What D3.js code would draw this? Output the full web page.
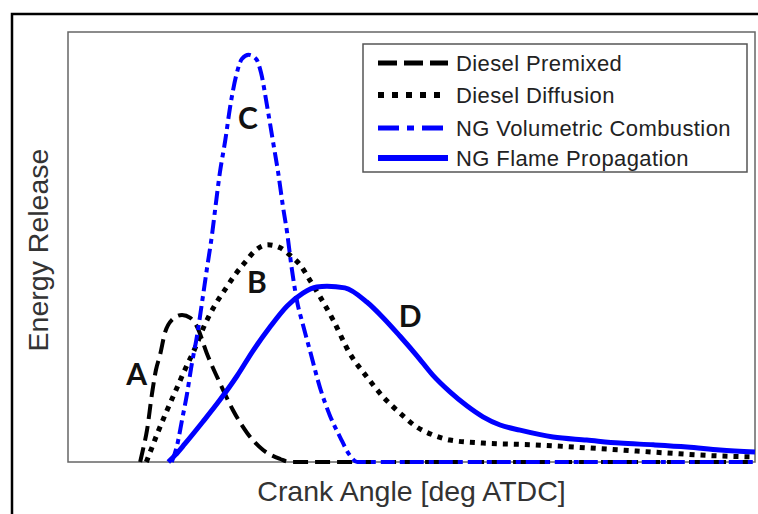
<!DOCTYPE html>
<html>
<head>
<meta charset="utf-8">
<script src="https://cdn.jsdelivr.net/npm/d3@7"></script>
<style>
  body { margin: 0; background: #fff; }
  svg { display: block; font-family: "Liberation Sans", Arial, sans-serif; }
</style>
</head>
<body>
<div id="container"></div>
<script>
// crank angle (arbitrary 0-100 scale) and energy release (0-100) per curve
const premixedX = [10.5, 10.9, 11.5, 12.2, 12.8, 13.4, 14.1, 15.1, 16.6, 17.8, 18.8, 20.2, 22.1, 24.0, 26.1, 28.4, 30.9, 32.3, 60, 100];
const premixedY = [0, 2.8, 7.4, 15.6, 21.4, 24.9, 30.0, 33.0, 34.2, 33.5, 31.4, 25.3, 18.4, 12.1, 6.7, 2.8, 0.7, 0, 0, 0];

const diffusionX = [11.4, 12.2, 13.1, 14.3, 15.6, 17.0, 18.5, 19.9, 21.4, 22.9, 24.3, 25.8, 27.2, 29.1, 30.9, 32.3, 33.8, 35.2, 36.7, 38.6, 41.0, 43.5, 45.9, 48.3, 50.8, 53.1, 55.6, 60.4, 67.7, 75.5, 85.2, 94.9, 100];
const diffusionY = [0, 3.3, 7.0, 11.6, 16.3, 21.4, 26.5, 31.9, 36.5, 40.2, 43.5, 46.5, 49.1, 50.5, 49.8, 48.1, 45.8, 42.3, 38.4, 33.0, 25.3, 19.8, 15.1, 11.4, 8.1, 6.3, 5.1, 4.4, 4.0, 3.3, 2.3, 1.4, 1.2];

const volumetricX = [15.1, 15.9, 16.6, 17.3, 18.0, 18.8, 19.5, 20.2, 21.0, 21.5, 22.1, 22.9, 23.6, 24.5, 25.3, 26.3, 27.4, 28.1, 29.0, 29.8, 30.6, 31.3, 31.9, 32.5, 33.3, 34.2, 35.2, 36.7, 38.1, 39.6, 41.0, 42.1, 70, 100];
const volumetricY = [0, 4.0, 9.8, 15.6, 22.6, 29.5, 37.0, 44.7, 53.3, 59.8, 67.2, 74.9, 82.6, 90.0, 93.7, 94.7, 93.7, 90.5, 82.6, 74.9, 67.2, 59.3, 53.3, 45.8, 37.7, 31.9, 26.0, 17.2, 10.9, 5.8, 1.6, 0, 0, 0];

const flameX = [14.6, 15.6, 17.0, 19.6, 22.1, 24.6, 26.9, 29.4, 31.9, 34.2, 36.2, 37.7, 40.3, 43.5, 45.9, 48.3, 50.8, 53.1, 55.6, 58.1, 60.4, 62.9, 65.8, 70.6, 75.5, 80.3, 85.2, 90.1, 94.9, 100];
const flameY = [0, 1.6, 4.2, 9.3, 14.4, 20.0, 25.8, 31.4, 36.3, 39.3, 40.7, 40.9, 40.5, 37.2, 33.5, 29.3, 24.7, 20.2, 16.3, 13.0, 10.5, 8.6, 7.4, 5.8, 5.1, 4.4, 4.0, 3.5, 2.8, 2.3];

const seriesNames = ['Diesel Premixed', 'Diesel Diffusion', 'NG Volumetric Combustion', 'NG Flame Propagation'];
const curveLetters = ['A', 'B', 'C', 'D'];
// where each letter sits, in data units
const letterX = [10.0, 27.5, 26.2, 49.8];
const letterY = [20.7, 42.1, 80.2, 34.2];

const series = [
  { name: seriesNames[0], x: premixedX, y: premixedY, color: '#000', dash: '15,7', width: 4 },
  { name: seriesNames[1], x: diffusionX, y: diffusionY, color: '#000', dash: '5,6', width: 5 },
  { name: seriesNames[2], x: volumetricX, y: volumetricY, color: '#0000ff', dash: '14,5,5,5', width: 4 },
  { name: seriesNames[3], x: flameX, y: flameY, color: '#0000ff', dash: null, width: 5 }
];

const W = 758, H = 514;
const margin = { top: 32, right: 3, bottom: 52, left: 68 };
const width = W - margin.left - margin.right;
const height = H - margin.top - margin.bottom;

const svg = d3.select('#container')
  .append('svg')
  .attr('width', W)
  .attr('height', H);

// outer frame (runs off the right and bottom edges)
svg.append('path')
  .attr('d', `M${W + 5},14 H12 V${H + 5}`)
  .attr('fill', 'none')
  .attr('stroke', '#000')
  .attr('stroke-width', 2.5);

const g = svg.append('g')
  .attr('transform', `translate(${margin.left}, ${margin.top})`);

// scales
const xScale = d3.scaleLinear().domain([0, 100]).range([0, width]);
const yScale = d3.scaleLinear().domain([0, 100]).range([height, 0]);

// plot box, no ticks
g.append('rect')
  .attr('width', width)
  .attr('height', height)
  .attr('fill', 'none')
  .attr('stroke', '#666')
  .attr('stroke-width', 1.5);

/*==================================================
    CURVES
===================================================*/
const line = d3.line()
  .x(d => xScale(d[0]))
  .y(d => yScale(d[1]))
  .curve(d3.curveMonotoneX);

const drawOrder = [1, 0, 3, 2];
drawOrder.forEach(i => {
  const s = series[i];
  g.append('path')
    .datum(s.x.map((v, k) => [v, s.y[k]]))
    .attr('d', line)
    .attr('fill', 'none')
    .attr('stroke', s.color)
    .attr('stroke-width', s.width)
    .attr('stroke-dasharray', s.dash);
});

// curve letters
g.selectAll('text.letter')
  .data(curveLetters)
  .enter()
  .append('text')
  .attr('class', 'letter')
  .attr('x', (d, i) => xScale(letterX[i]))
  .attr('y', (d, i) => yScale(letterY[i]))
  .attr('text-anchor', 'middle')
  .attr('dominant-baseline', 'central')
  .style('font-family', 'Lato, "Open Sans", sans-serif')
  .style('font-weight', 'bold')
  .style('font-size', '30px')
  .attr('fill', '#111')
  .text(d => d);

/*==================================================
    LEGEND
===================================================*/
const legend = svg.append('g')
  .attr('transform', 'translate(363, 44)');

legend.append('rect')
  .attr('width', 384)
  .attr('height', 128)
  .attr('fill', '#fff')
  .attr('stroke', '#555')
  .attr('stroke-width', 1.5);

const rowY = [19, 51, 84, 114];
series.forEach((s, i) => {
  legend.append('line')
    .attr('x1', 15).attr('x2', 85)
    .attr('y1', rowY[i]).attr('y2', rowY[i])
    .attr('stroke', s.color)
    .attr('stroke-width', s.width + 1)
    .attr('stroke-dasharray', i === 0 ? '19,7' : i === 1 ? '6,8' : i === 2 ? '21,8,7,8' : null);
  legend.append('text')
    .attr('x', 93)
    .attr('y', rowY[i])
    .attr('dominant-baseline', 'central')
    .style('font-size', '22px')
    .style('letter-spacing', '0.4px')
    .attr('fill', '#222')
    .text(s.name);
});

/*==================================================
    AXIS TITLES
===================================================*/
svg.append('text')
  .attr('x', margin.left + width / 2)
  .attr('y', 501)
  .attr('text-anchor', 'middle')
  .style('font-size', '28.5px')
  .attr('fill', '#333')
  .text('Crank Angle [deg ATDC]');

svg.append('text')
  .attr('transform', 'translate(48, 250) rotate(-90)')
  .attr('text-anchor', 'middle')
  .style('font-size', '28.5px')
  .attr('fill', '#333')
  .text('Energy Release');
</script>
</body>
</html>
